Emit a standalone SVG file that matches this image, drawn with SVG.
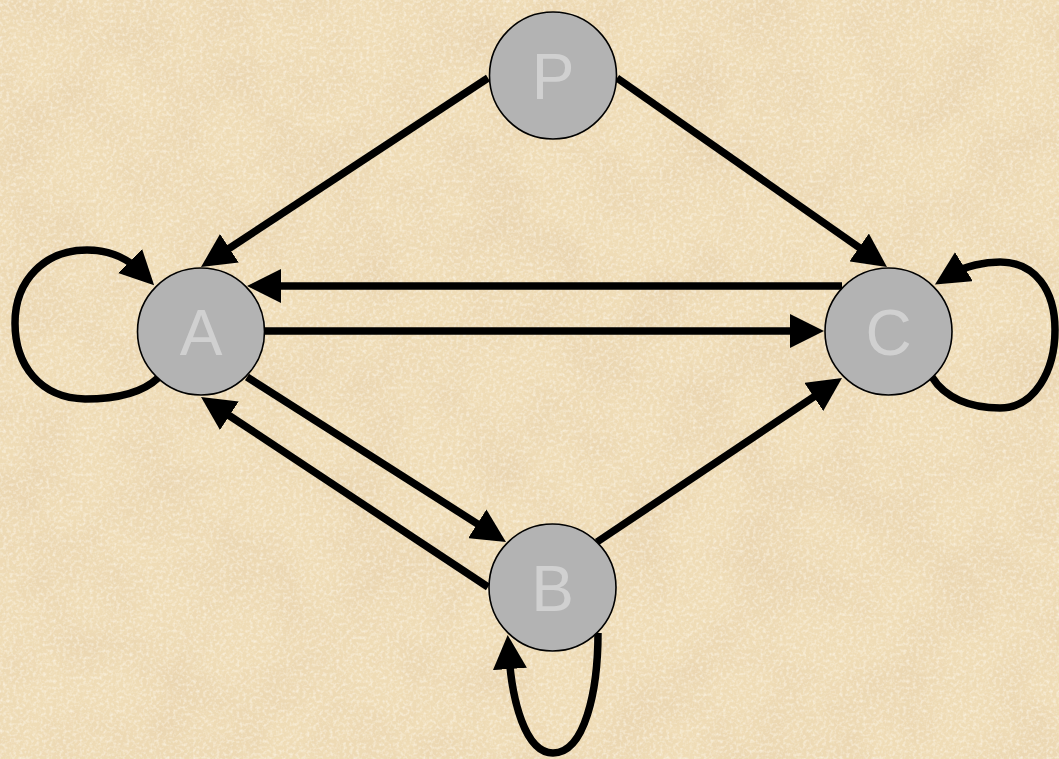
<svg xmlns="http://www.w3.org/2000/svg" width="1059" height="759" viewBox="0 0 1059 759">
  <style>
    .edge { fill: none; stroke: #000; stroke-width: 7.5; marker-end: url(#arrow); }
    .node circle { fill: #b3b3b3; stroke: #000; stroke-width: 1.6; }
    .node text { fill: #d0d0d0; font-family: "Liberation Sans", Arial, sans-serif; font-size: 64px; text-anchor: middle; }
  </style>
  <defs>
    <marker id="arrow" markerUnits="userSpaceOnUse" markerWidth="34" markerHeight="34" viewBox="0 0 34 34" refX="14" refY="17" orient="auto">
      <path d="M0,0 L34,17 L0,34 z" fill="#000"/>
    </marker>
    <filter id="paper" x="0" y="0" width="100%" height="100%">
      <feTurbulence type="fractalNoise" baseFrequency="0.015" numOctaves="4" seed="7"/>
      <feColorMatrix type="matrix" values="0 0 0 0 0.80  0 0 0 0 0.64  0 0 0 0 0.42  1.4 0 0 0 -0.52"/>
    </filter>
    <filter id="grain" x="0" y="0" width="100%" height="100%">
      <feTurbulence type="fractalNoise" baseFrequency="0.3" numOctaves="2" seed="2"/>
      <feColorMatrix type="matrix" values="0 0 0 0 0.99  0 0 0 0 0.95  0 0 0 0 0.86  1.4 0 0 0 -0.6"/>
    </filter>
  </defs>

  <g id="background">
    <rect width="1059" height="759" fill="#efdcb6"/>
    <rect width="1059" height="759" filter="url(#paper)"/>
    <rect width="1059" height="759" filter="url(#grain)"/>
  </g>

  <g id="connectors">
    <path id="e-P-A" class="edge" d="M488,78 L217.7,256"/>
    <path id="e-P-C" class="edge" d="M617,78 L870.6,255.5"/>
    <path id="e-C-A" class="edge" d="M842,286 L267,286"/>
    <path id="e-A-C" class="edge" d="M265,331 L804,331"/>
    <path id="e-A-B" class="edge" d="M247,377 L489.1,531.3"/>
    <path id="e-B-A" class="edge" d="M488,587 L217.7,408"/>
    <path id="e-B-C" class="edge" d="M597,542 L825.4,389.1"/>
    <path id="e-A-A" class="edge" d="M158,378 C140,395 110,399 85,399 C40,398 15,365 15,323 C15,280 45,250 87,250 C105,250 125,256 140,271"/>
    <path id="e-C-C" class="edge" d="M932,377 C945,398 970,408 1000,408 C1035,408 1055,370 1055,330 C1055,290 1035,262 1000,262 C985,262 965,266 952,274"/>
    <path id="e-B-B" class="edge" d="M598,633 C598,690 585,753 553,753 C525,753 512,700 509,655"/>
  </g>

  <g id="node-P" class="node">
    <circle cx="553" cy="75.5" r="63.5"/>
    <text x="553" y="99">P</text>
  </g>
  <g id="node-A" class="node">
    <circle cx="201" cy="331.5" r="63.5"/>
    <text x="201" y="355">A</text>
  </g>
  <g id="node-C" class="node">
    <circle cx="888.5" cy="331.5" r="63.5"/>
    <text x="888.5" y="355">C</text>
  </g>
  <g id="node-B" class="node">
    <circle cx="552.5" cy="587.5" r="63.5"/>
    <text x="552.5" y="611">B</text>
  </g>
</svg>
